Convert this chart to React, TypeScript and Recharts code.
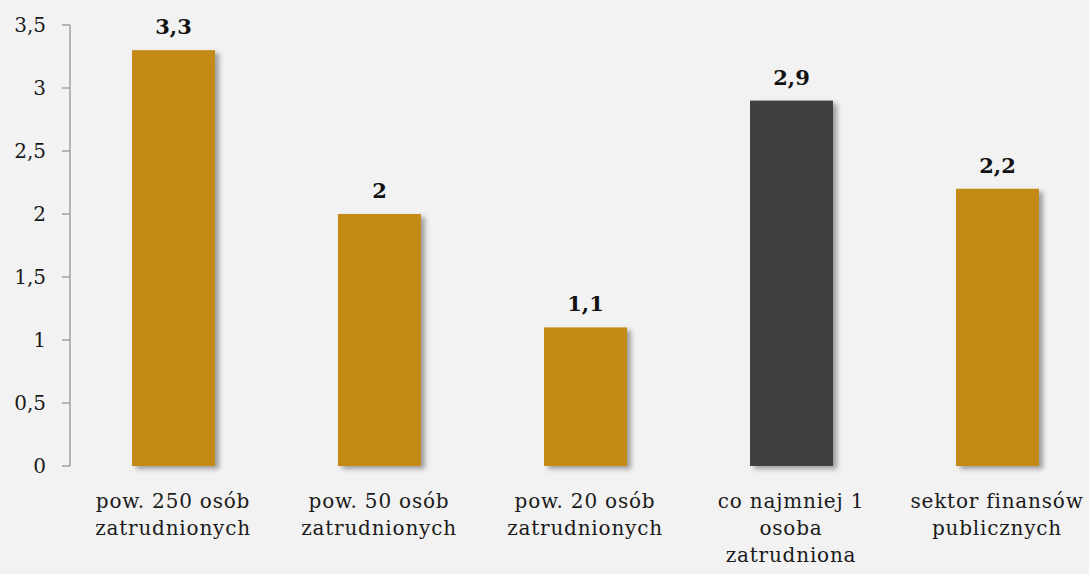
import React from 'react';
import { BarChart, Bar, XAxis, YAxis, Cell, LabelList } from 'recharts';

const categories = [
  'pow. 250 osób\nzatrudnionych',
  'pow. 50 osób\nzatrudnionych',
  'pow. 20 osób\nzatrudnionych',
  'co najmniej 1\nosoba\nzatrudniona',
  'sektor finansów\npublicznych',
];
const values = [3.3, 2, 1.1, 2.9, 2.2];
const barColors = ['#C48A12', '#C48A12', '#C48A12', '#404040', '#C48A12'];
const yTicks = [0, 0.5, 1, 1.5, 2, 2.5, 3, 3.5];
const boundaryTicks = [0, 1, 2, 3, 4, 5];

const data = categories.map((name, i) => ({ name, value: values[i], pos: i + 0.5 }));

const FONT = '"DejaVu Serif", serif';
const fmt = (v: number) => String(v).replace('.', ',');

const CategoryTick = (props: any) => {
  const { x, y, payload } = props;
  const lines = String(payload.value).split('\n');
  return (
    <text x={x} y={y} textAnchor="middle" fontFamily={FONT} fontSize={20} letterSpacing={0.8} fill="#1a1a1a">
      {lines.map((l, i) => (
        <tspan key={i} x={x} dy={i === 0 ? 42 : 27}>{l}</tspan>
      ))}
    </text>
  );
};

const ShadowBar = (props: any) => {
  const { x, y, width, height, fill } = props;
  return <rect x={x} y={y} width={width} height={height} fill={fill} filter="url(#barShadow)" />;
};

export default function App() {
  return (
    <div style={{ position: 'fixed', left: 0, top: 0, width: 1089, height: 574, overflow: 'hidden', background: '#F2F2F2' }}>
      <BarChart
        width={1100}
        height={574}
        data={data}
        margin={{ top: 25, right: 0, bottom: 0, left: 0 }}
        barCategoryGap={0}
      >
        <defs>
          <filter id="barShadow" x="-20%" y="-10%" width="140%" height="130%">
            <feDropShadow dx={4} dy={3} stdDeviation={2.5} floodColor="#000" floodOpacity={0.35} />
          </filter>
        </defs>
        <XAxis
          xAxisId="ticks"
          type="number"
          dataKey="pos"
          domain={[0, 5]}
          ticks={boundaryTicks}
          height={0}
          axisLine={{ stroke: '#A0A0A0', strokeWidth: 1.5 }}
          tickLine={{ stroke: '#A0A0A0', strokeWidth: 1.5 }}
          tickSize={8}
          tick={() => null}
        />
        <XAxis
          dataKey="name"
          height={108}
          axisLine={false}
          tickLine={false}
          tickSize={0}
          tickMargin={0}
          interval={0}
          tick={<CategoryTick />}
        />
        <YAxis
          width={70}
          domain={[0, 3.5]}
          ticks={yTicks}
          tickFormatter={fmt}
          axisLine={{ stroke: '#A0A0A0', strokeWidth: 1.5 }}
          tickLine={{ stroke: '#A0A0A0', strokeWidth: 1.5 }}
          tickSize={8}
          tickMargin={16}
          tick={{ fontFamily: FONT, fontSize: 20, fill: '#1a1a1a' }}
        />
        <Bar dataKey="value" barSize={83} isAnimationActive={false} shape={<ShadowBar />}>
          {data.map((d, i) => (
            <Cell key={i} fill={barColors[i]} />
          ))}
          <LabelList
            dataKey="value"
            position="top"
            offset={16}
            formatter={(v: any) => fmt(v)}
            style={{ fontFamily: FONT, fontSize: 21, fontWeight: 'bold', fill: '#111' }}
          />
        </Bar>
      </BarChart>
    </div>
  );
}
